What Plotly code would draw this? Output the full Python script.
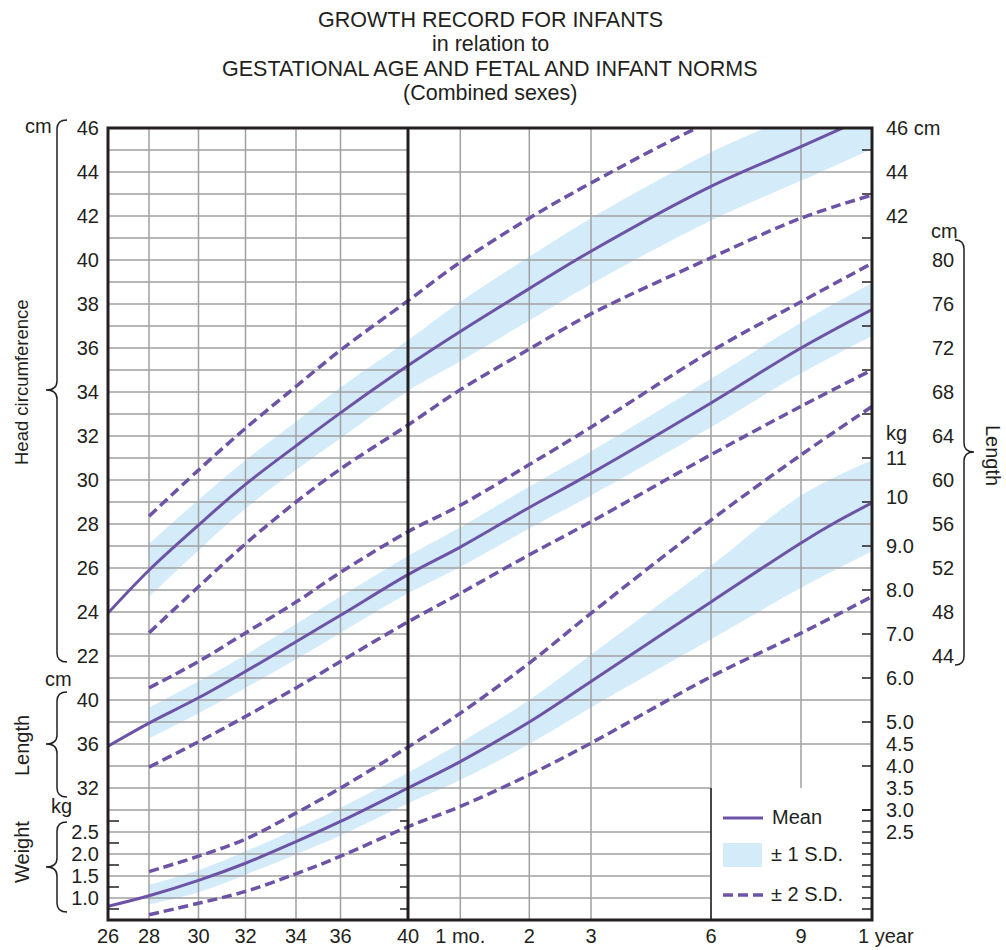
import numpy as np
import plotly.graph_objects as go

# ---------------- data ----------------
WEEKS = [26, 28, 30, 32, 34, 36, 40]          # gestational age, weeks
MONTHS = [1, 2, 3, 6, 9, 12]                   # postnatal age, months

# Head circumference (cm)
HC_MEAN = [23.95, 25.9, 27.95, 29.8, 31.55, 33.05, 35.2, 36.75, 38.7, 40.4, 43.35, 45.15, 46.6]
HC_SD1_HI = [None, 27.1, 29.1, 30.9, 32.65, 34.2, 36.35, 38.1, 40.15, 41.9, 44.9, 46.7, 48.15]
HC_SD1_LO = [None, 24.7, 26.8, 28.7, 30.45, 31.9, 34.05, 35.4, 37.25, 38.9, 41.8, 43.6, 45.05]
HC_SD2_HI = [None, 28.35, 30.45, 32.35, 34.25, 35.9, 38.15, 39.9, 41.9, 43.5, 46.3, 47.9, 49.0]
HC_SD2_LO = [None, 23.05, 25.15, 27.1, 29.0, 30.5, 32.5, 34.1, 35.95, 37.55, 40.1, 41.9, 42.95]

# Length (cm)
LEN_MEAN = [35.8, 37.9, 40.2, 42.6, 45.3, 47.7, 51.4, 53.9, 57.5, 60.6, 67.0, 72.0, 75.5]
LEN_SD1_HI = [None, 39.3, 41.7, 44.1, 46.9, 49.4, 53.1, 55.7, 59.4, 62.6, 69.2, 74.3, 77.9]
LEN_SD1_LO = [None, 36.5, 38.8, 41.1, 43.7, 46.1, 49.7, 52.1, 55.6, 58.6, 64.8, 69.7, 73.1]
LEN_SD2_HI = [None, 41.1, 43.5, 46.1, 48.9, 51.6, 55.3, 57.7, 61.4, 64.8, 71.7, 76.2, 79.7]
LEN_SD2_LO = [None, 33.9, 36.2, 38.5, 41.1, 43.5, 47.1, 49.7, 53.2, 56.2, 62.3, 66.7, 70.0]

# Weight (kg)
WT_MEAN_MONTHS = [1, 2, 3, 6, 9, 10.5, 12]
WT_MEAN = [0.81, 1.05, 1.40, 1.79, 2.28, 2.74, 3.50, 4.10, 5.00, 5.92, 7.73, 9.07, 9.55, 9.98]
WT_SD1_HI = [None, 1.30, 1.63, 2.06, 2.57, 3.05, 3.85, 4.53, 5.50, 6.53, 8.55, 10.15, 10.95]
WT_SD1_LO = [None, 0.85, 1.13, 1.53, 1.99, 2.42, 3.15, 3.68, 4.50, 5.33, 6.88, 8.05, 8.88]
WT_SD2_HI = [None, 1.60, 1.95, 2.34, 2.93, 3.50, 4.43, 5.20, 6.34, 7.47, 9.59, 11.07, 12.17]
WT_SD2_LO = [None, 0.62, 0.88, 1.15, 1.55, 1.95, 2.62, 3.08, 3.80, 4.52, 6.03, 7.02, 7.85]

# tick labels
X_TICK_TEXT = ["26", "28", "30", "32", "34", "36", "40", "1 mo.", "2", "3", "6", "9", "1 year"]
HC_TICKS_LEFT = [22, 24, 26, 28, 30, 32, 34, 36, 38, 40, 42, 44, 46]
LEN_TICKS_LEFT = [32, 36, 40]
WT_TICKS_LEFT = [1.0, 1.5, 2.0, 2.5]
HC_TICKS_RIGHT = [42, 44, 46]
LEN_TICKS_RIGHT = [44, 48, 52, 56, 60, 64, 68, 72, 76, 80]
WT_TICKS_RIGHT = [2.5, 3.0, 3.5, 4.0, 4.5, 5.0, 6.0, 7.0, 8.0, 9.0, 10, 11]

# ---------------- scales of the printed chart ----------------
def to_weeks(months):
    return [40 + m * 52 / 12 for m in months]

AGE = WEEKS + to_weeks(MONTHS)
WT_MEAN_AGE = WEEKS + to_weeks(WT_MEAN_MONTHS)
# non-uniform printed time scale (axis units)
TICK_POS = [0, 41, 90.5, 137.5, 188, 232.5, 300, 352.3, 421.3, 483, 603, 693, 764]

def xs(ages):
    return list(np.interp(ages, AGE, TICK_POS))

# shared vertical grid: 1 unit = 1 cm head circ. = 2 cm length = 0.5 kg weight
def g_hc(v):
    return v

def g_len(v):
    return v / 2.0

def g_wt(v):
    return 9 + 2.0 * v

# ---------------- styles ----------------
PURPLE = "#6d53a6"
BAND = "#d4ecf9"
GRID = "#a0a0a0"
INK = "#231f20"
FONT = "Liberation Sans, Arial, sans-serif"
DASH = "10px,5px"

W, H = 1006, 950
PL, PR, PT, PB = 108, 872, 128, 920

def px(x):
    return (x - PL) / (PR - PL)

def py(y):
    return (PB - y) / (PB - PT)

fig = go.Figure()

def pairs(ages, vals, scale):
    xx, yy = [], []
    for a, v in zip(ages, vals):
        if v is not None:
            xx.append(a)
            yy.append(scale(v))
    return xs(xx), yy

measures = [
    (g_hc, AGE, HC_MEAN, HC_SD1_HI, HC_SD1_LO, HC_SD2_HI, HC_SD2_LO),
    (g_len, AGE, LEN_MEAN, LEN_SD1_HI, LEN_SD1_LO, LEN_SD2_HI, LEN_SD2_LO),
    (g_wt, WT_MEAN_AGE, WT_MEAN, WT_SD1_HI, WT_SD1_LO, WT_SD2_HI, WT_SD2_LO),
]

# bands (+-1 SD)
for sc, mage, mean, h1, l1, h2, l2 in measures:
    x1, y1 = pairs(AGE, h1, sc)
    x2, y2 = pairs(AGE, l1, sc)
    fig.add_trace(go.Scatter(x=x1, y=y1, mode="lines", line=dict(width=0, color=BAND, shape="spline"),
                             hoverinfo="skip", showlegend=False))
    fig.add_trace(go.Scatter(x=x2, y=y2, mode="lines", line=dict(width=0, color=BAND, shape="spline"),
                             fill="tonexty", fillcolor=BAND, hoverinfo="skip", showlegend=False))

# grid lines
gx, gy = [], []
def seg(x0, y0, x1, y1, X, Y):
    X += [x0, x1, None]
    Y += [y0, y1, None]

for p in TICK_POS[1:6] + TICK_POS[7:11]:
    seg(p, 10, p, 46, gx, gy)
seg(TICK_POS[11], 16, TICK_POS[11], 46, gx, gy)
for g in range(11, 46):
    seg(TICK_POS[0], g, TICK_POS[6], g, gx, gy)
for g in range(18, 46, 2):
    seg(TICK_POS[6], g, TICK_POS[12], g, gx, gy)
for g in [11, 12, 13, 14, 16]:
    seg(TICK_POS[6], g, TICK_POS[10], g, gx, gy)
fig.add_trace(go.Scatter(x=gx, y=gy, mode="lines", line=dict(color=GRID, width=1.5),
                         hoverinfo="skip", showlegend=False))

# small tick marks
tx, ty = [], []
for g in [10.5, 11.5, 12.5, 13.5, 14.5]:
    seg(0, g, 11, g, tx, ty)
    seg(292, g, 300, g, tx, ty)
for g in list(np.arange(10.5, 15.01, 0.5)) + list(range(15, 46, 2)):
    seg(754, g, 764, g, tx, ty)
fig.add_trace(go.Scatter(x=tx, y=ty, mode="lines", line=dict(color=INK, width=1.5),
                         hoverinfo="skip", showlegend=False))

# curves
for sc, mage, mean, h1, l1, h2, l2 in measures:
    for vals in (h2, l2):
        x, y = pairs(AGE, vals, sc)
        fig.add_trace(go.Scatter(x=x, y=y, mode="lines",
                                 line=dict(color=PURPLE, width=3.5, dash=DASH, shape="spline", smoothing=1),
                                 hoverinfo="skip", showlegend=False))
    x, y = pairs(mage, mean, sc)
    fig.add_trace(go.Scatter(x=x, y=y, mode="lines",
                             line=dict(color=PURPLE, width=3, shape="spline", smoothing=1),
                             hoverinfo="skip", showlegend=False))

# ---------------- frame, dividers, braces ----------------
shapes = [
    dict(type="rect", xref="paper", yref="paper", x0=0, x1=1, y0=0, y1=1,
         line=dict(color=INK, width=3), layer="above"),
    dict(type="line", xref="x", yref="y", x0=TICK_POS[6], x1=TICK_POS[6], y0=10, y1=46,
         line=dict(color=INK, width=3), layer="above"),
    dict(type="line", xref="x", yref="y", x0=TICK_POS[10], x1=TICK_POS[10], y0=10, y1=16,
         line=dict(color=INK, width=1.5), layer="above"),
]

def brace(xh, xsp, xt, y0, y1, ym, r=9):
    P = lambda x, y: f"{px(x):.5f},{py(y):.5f}"
    return (f"M{P(xh, y0)} Q{P(xsp, y0)} {P(xsp, y0 + r)} L{P(xsp, ym - r)} "
            f"Q{P(xsp, ym)} {P(xt, ym)} Q{P(xsp, ym)} {P(xsp, ym + r)} "
            f"L{P(xsp, y1 - r)} Q{P(xsp, y1)} {P(xh, y1)}")

for b in [brace(67, 57, 46, 120, 662, 390), brace(67, 57, 46, 692, 797, 744),
          brace(67, 57, 46, 822, 912, 867), brace(955, 964, 974, 240, 665, 452)]:
    shapes.append(dict(type="path", xref="paper", yref="paper", path=b,
                       line=dict(color=INK, width=1.5)))

# legend box samples
shapes += [
    dict(type="line", xref="paper", yref="paper", x0=px(723), x1=px(763), y0=py(818), y1=py(818),
         line=dict(color=PURPLE, width=3)),
    dict(type="rect", xref="paper", yref="paper", x0=px(723), x1=px(762), y0=py(867), y1=py(843),
         line=dict(width=0), fillcolor=BAND),
    dict(type="line", xref="paper", yref="paper", x0=px(723), x1=px(763), y0=py(895), y1=py(895),
         line=dict(color=PURPLE, width=3.5, dash="10px,5px")),
]

# ---------------- annotations ----------------
ann = []
def text(x, y, s, size=20, xanchor="center", yanchor="middle", angle=0, yref="paper", yshift=0):
    ann.append(dict(x=px(x), y=(py(y) if yref == "paper" else y), xref="paper", yref=yref,
                    text=s, showarrow=False, xanchor=xanchor, yanchor=yanchor, textangle=angle,
                    yshift=yshift, font=dict(family=FONT, size=size, color=INK)))

# title
text(490, 20, "GROWTH RECORD FOR INFANTS", 21.5)
text(490, 44, "in relation to", 21.5)
text(490, 69, "GESTATIONAL AGE AND FETAL AND INFANT NORMS", 21.5)
text(490, 93, "(Combined sexes)", 21.5)

# left units and titles
text(38, 126, "cm")
text(58, 679, "cm")
text(61, 806, "kg")
text(21, 382, "Head circumference", 18.5, angle=-90)
text(22, 746, "Length", 20, angle=-90)
text(22, 852, "Weight", 20, angle=-90)

# right labels
for v in HC_TICKS_RIGHT:
    text(884, g_hc(v), f"{v} cm" if v == 46 else f"{v}", xanchor="left", yref="y")
for v in WT_TICKS_RIGHT:
    s = f"{v:.1f}" if v < 10 else f"{v}"
    text(884, g_wt(v), s, xanchor="left", yref="y", yshift=(5 if v == 10 else 0))
for v in LEN_TICKS_RIGHT:
    text(930, g_len(v), f"{v}", xanchor="left", yref="y")
text(884, 433, "kg", xanchor="left")
text(944, 231, "cm")
text(993, 455, "Length", 20, angle=90)

# x label for the last tick
text(856, 936, X_TICK_TEXT[-1], xanchor="left")

# legend texts
text(770, 817, "Mean", xanchor="left")
text(769, 854, "± 1 S.D.", xanchor="left")
text(769, 894, "± 2 S.D.", xanchor="left")

# ---------------- layout ----------------
ytv = [g_hc(v) for v in HC_TICKS_LEFT] + [g_len(v) for v in LEN_TICKS_LEFT] + [g_wt(v) for v in WT_TICKS_LEFT]
ytt = [str(v) for v in HC_TICKS_LEFT] + [str(v) for v in LEN_TICKS_LEFT] + [f"{v:.1f}" for v in WT_TICKS_LEFT]

fig.update_layout(
    width=W, height=H,
    margin=dict(l=PL, r=W - PR, t=PT, b=H - PB, autoexpand=False),
    paper_bgcolor="white", plot_bgcolor="white",
    showlegend=False,
    font=dict(family=FONT, size=20, color=INK),
    xaxis=dict(range=[0, 764], tickvals=TICK_POS[:12], ticktext=X_TICK_TEXT[:12],
               showgrid=False, zeroline=False, showline=False, ticks="", automargin=False,
               tickfont=dict(family=FONT, size=20, color=INK), ticklabelstandoff=2),
    yaxis=dict(range=[10, 46], tickvals=ytv, ticktext=ytt, automargin=False,
               showgrid=False, zeroline=False, showline=False, ticks="",
               tickfont=dict(family=FONT, size=20, color=INK), ticklabelstandoff=8),
    shapes=shapes,
    annotations=ann,
)

fig.write_html("out.html")
